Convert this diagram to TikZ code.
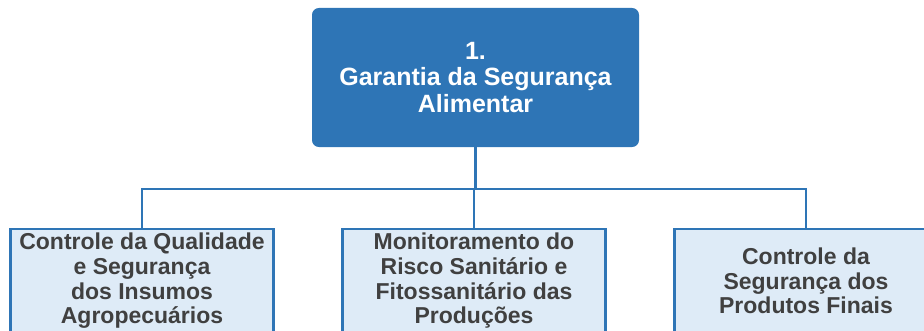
\documentclass[tikz,border=0pt]{standalone}
\usepackage{fontspec}
\setmainfont{Liberation Sans}
\definecolor{boxblue}{HTML}{2E75B6}
\definecolor{paleblue}{HTML}{DEEBF7}
\definecolor{textgray}{HTML}{404040}
\tikzset{
  headbox/.style={draw=boxblue, fill=boxblue, rounded corners=6pt, line width=2pt,
    minimum width=325pt, minimum height=137pt, align=center, text=white,
    font=\fontsize{25}{26.5}\selectfont\bfseries},
  subbox/.style={draw=boxblue, fill=paleblue, line width=2.4pt,
    minimum width=263pt, minimum height=104pt, align=center, text=textgray,
    font=\fontsize{23}{24.7}\selectfont\bfseries},
  link/.style={draw=boxblue, line width=2.4pt}
}
\begin{document}
\begin{tikzpicture}[x=1pt,y=1pt]
    \useasboundingbox (0,0) rectangle (924,330);
    \clip (0,0) rectangle (924,330);

    \node[headbox] (G) at (475.5,252.5) {1.\\Garantia da Segurança\\Alimentar};

    \node[subbox] (A) at (142,49) {Controle da Qualidade\\e Segurança\\dos Insumos\\Agropecuários};
    \node[subbox] (B) at (474,49) {Monitoramento do\\Risco Sanitário e\\Fitossanitário das\\Produções};
    \node[subbox] (C) at (806,49) {Controle da\\Segurança dos\\Produtos Finais};

    \coordinate (bus) at (475.5,141);

    \draw[link] (G.south) -- (bus);
    \draw[link] (bus) -| (A.north);
    \draw[link] (bus) -| (B.north);
    \draw[link] (bus) -| (C.north);
\end{tikzpicture}
\end{document}
